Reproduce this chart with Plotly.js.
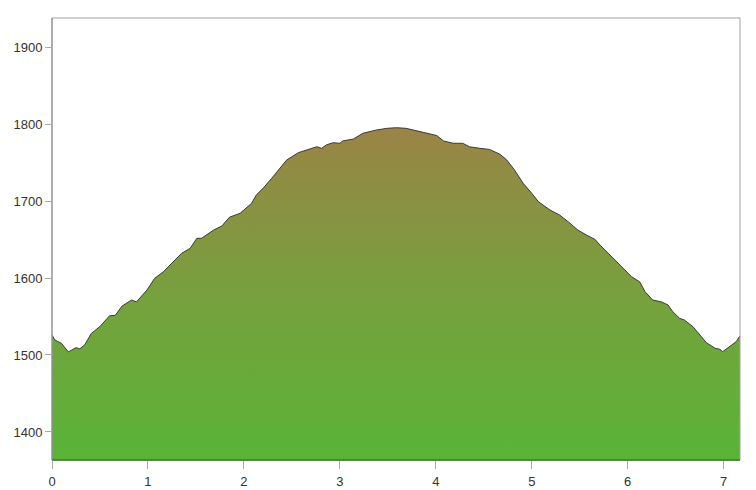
<!DOCTYPE html>
<html>
<head>
<meta charset="utf-8">
<script src="https://cdn.plot.ly/plotly-3.0.1.min.js"></script>
<style>html,body{margin:0;padding:0;background:#fff;}#chart{width:756px;height:490px;}</style>
</head>
<body>
<div id="chart"></div>
<script>
// Distance (km) along the route
const distance = [0.00,0.03,0.10,0.17,0.25,0.29,0.34,0.41,0.50,0.60,0.66,0.73,0.83,0.88,0.99,1.07,1.16,1.25,1.35,1.44,1.51,1.56,1.68,1.77,1.85,1.96,2.08,2.13,2.20,2.29,2.375,2.445,2.566,2.67,2.76,2.81,2.86,2.93,3.00,3.03,3.14,3.24,3.38,3.49,3.59,3.69,3.80,3.90,4.01,4.08,4.18,4.28,4.35,4.46,4.56,4.67,4.74,4.82,4.91,5.00,5.07,5.19,5.29,5.38,5.48,5.57,5.66,5.71,5.81,5.92,6.00,6.04,6.125,6.18,6.26,6.35,6.42,6.47,6.54,6.59,6.68,6.75,6.82,6.91,6.96,6.99,7.06,7.13,7.17];
// Elevation (m)
const elevation = [1526,1519.5,1515,1504,1509.5,1508,1513,1528,1537,1551,1551.5,1563.6,1571.4,1569,1584.4,1599.6,1608,1619,1632,1638.6,1651.6,1651.6,1662,1667.5,1679,1684,1697,1708,1716.5,1729.5,1742.5,1753.2,1762.7,1767,1770.5,1768.4,1773,1775.7,1775,1778,1780.5,1788,1792.2,1794.4,1795.2,1794.4,1791,1788,1785,1778,1775,1775,1770.5,1768.4,1767,1760.6,1753.2,1740.3,1723,1710,1699,1688.3,1681.8,1673,1662.3,1655.8,1650,1642.9,1630,1617,1606,1601.7,1595,1582.2,1571.4,1569,1565,1556.2,1547.6,1545.5,1536.7,1526,1516,1508.7,1507.4,1504.3,1510.8,1517.3,1524.7];
const xTicks = [0,1,2,3,4,5,6,7];
const yTicks = [1400,1500,1600,1700,1800,1900];

const trace = {
  x: distance,
  y: elevation,
  type: 'scatter',
  mode: 'lines',
  line: {color: '#3a3a3a', width: 1},
  fill: 'tozeroy',
  fillgradient: {
    type: 'vertical',
    start: 1364,
    stop: 1796,
    colorscale: [[0, '#58b436'], [0.5, '#77a03e'], [1, '#9a8446']]
  },
  hoverinfo: 'x+y'
};

const layout = {
  width: 756,
  height: 490,
  margin: {l: 52, r: 16, t: 18, b: 30},
  paper_bgcolor: '#ffffff',
  plot_bgcolor: '#ffffff',
  showlegend: false,
  font: {family: 'Liberation Sans, Arial, sans-serif', size: 13, color: '#333333'},
  xaxis: {
    range: [0, 7.17],
    tickvals: xTicks,
    ticktext: xTicks.map(String),
    ticks: 'outside',
    ticklen: 8,
    tickcolor: '#aaaaaa',
    ticklabelstandoff: 1,
    showgrid: false,
    zeroline: false,
    showline: false
  },
  yaxis: {
    range: [1363.6, 1937.7],
    tickvals: yTicks,
    ticktext: yTicks.map(String),
    ticks: 'outside',
    ticklen: 6,
    tickcolor: '#aaaaaa',
    showgrid: false,
    zeroline: false,
    showline: false
  },
  shapes: [
    {type: 'rect', xref: 'paper', yref: 'paper', x0: 0, x1: 1, y0: 0, y1: 1,
     line: {color: '#a0a0a0', width: 1}, layer: 'above'},
    {type: 'line', xref: 'paper', yref: 'paper', x0: 0, x1: 1, y0: 0, y1: 0,
     line: {color: '#2f7a1c', width: 1.5}, layer: 'above'},
    {type: 'line', xref: 'paper', yref: 'paper', x0: 0, x1: 0, y0: 0, y1: 1,
     line: {color: '#8a8a8a', width: 1}, layer: 'above'}
  ]
};

Plotly.newPlot('chart', [trace], layout, {displayModeBar: false, staticPlot: true});
</script>
</body>
</html>
